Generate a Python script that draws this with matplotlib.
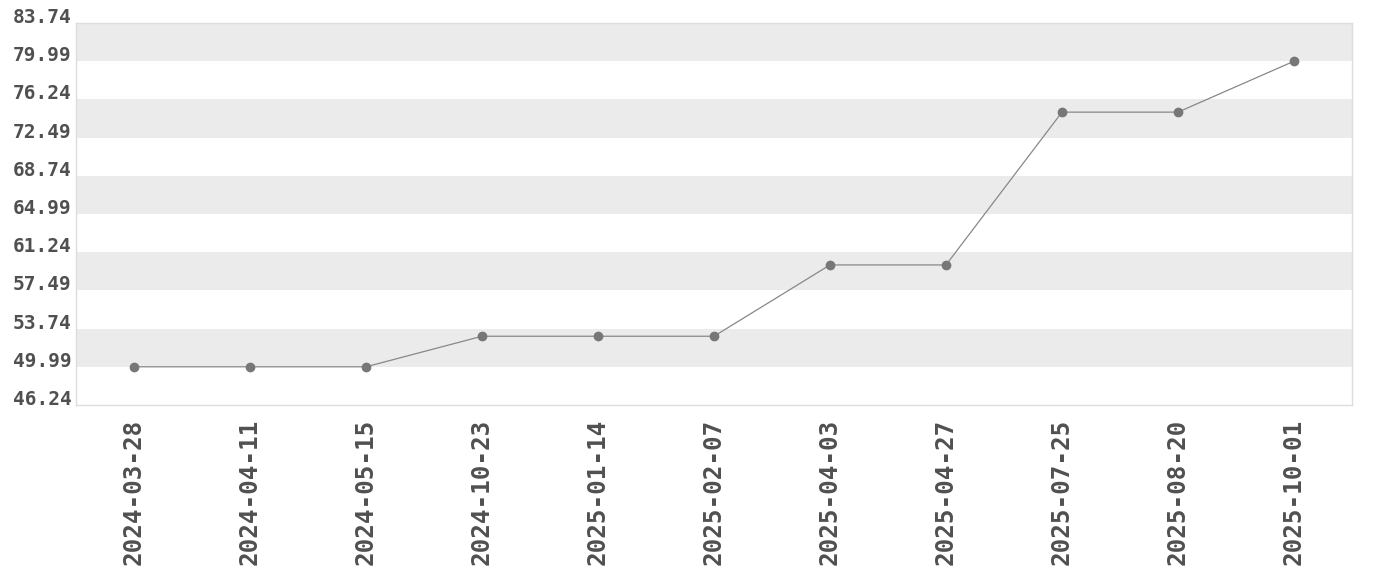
# line chart with alternating bands
import matplotlib.pyplot as plt
import numpy as np

dates = ['2024-03-28', '2024-04-11', '2024-05-15', '2024-10-23', '2025-01-14',
         '2025-02-07', '2025-04-03', '2025-04-27', '2025-07-25', '2025-08-20',
         '2025-10-01']
values = [49.99, 49.99, 49.99, 52.99, 52.99, 52.99, 59.99, 59.99, 74.99, 74.99, 79.99]
yticks = [46.24, 49.99, 53.74, 57.49, 61.24, 64.99, 68.74, 72.49, 76.24, 79.99, 83.74]

fig = plt.figure(figsize=(13.8, 5.8), dpi=100)
ax = fig.add_axes([76 / 1380, 1 - 405 / 580, (1352 - 76) / 1380, (405 - 23) / 580])

# gray bands
for i in range(1, len(yticks) - 1, 2):
    ax.axhspan(yticks[i], yticks[i + 1], color='#ebebeb', lw=0, zorder=0)

x = np.arange(len(dates))
ax.plot(x, values, color='#888888', lw=0.9, marker='o', markersize=6,
        markerfacecolor='#777777', markeredgecolor='#777777', zorder=3)

ax.set_xlim(-0.5, len(dates) - 0.5)
ax.set_ylim(yticks[0], yticks[-1])
ax.set_xticks(x)
ax.set_xticklabels(dates, rotation=90, fontsize=17.5, fontweight='bold',
                   family='DejaVu Sans Mono', color='#505050')
ax.set_yticks(yticks)
ax.set_yticklabels(['%.2f' % v for v in yticks], fontsize=14, fontweight='bold',
                   family='DejaVu Sans Mono', color='#505050')
for lab in ax.get_yticklabels():
    lab.set_verticalalignment('baseline')
ax.tick_params(length=0, pad=3)
ax.tick_params(axis='x', pad=10)
for s in ax.spines.values():
    s.set_color('#dddddd')
    s.set_linewidth(1)

fig.savefig('out.png', dpi=100)
